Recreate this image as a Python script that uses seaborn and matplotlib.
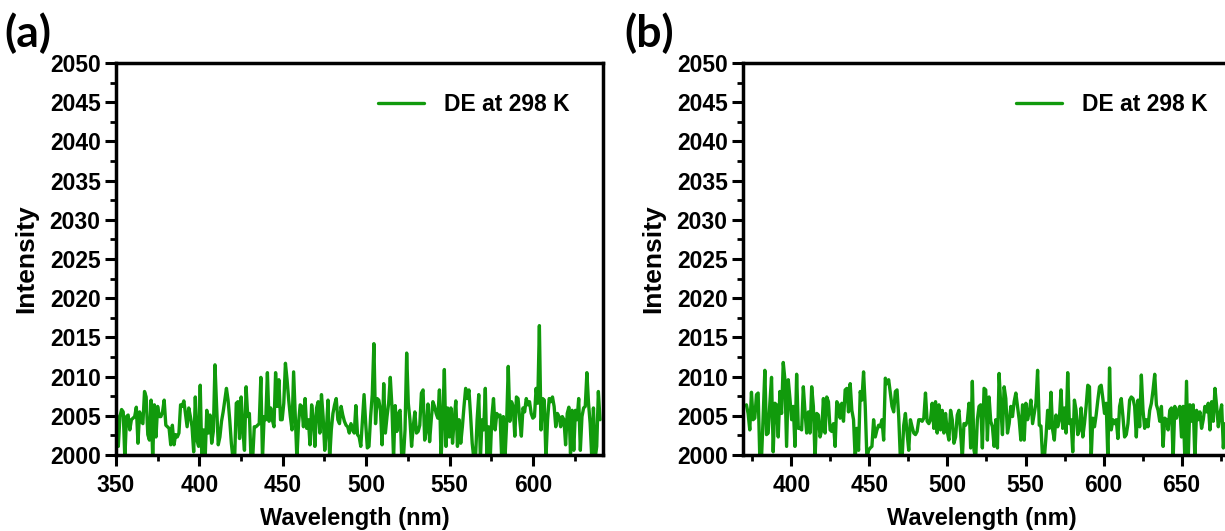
import numpy as np
import pandas as pd
import matplotlib
matplotlib.use("Agg")
import matplotlib.pyplot as plt
import seaborn as sns
from matplotlib.ticker import MultipleLocator

# ---------------------------------------------------------------- data
# Panel (a): emission spectrum sampled across 350-640 nm
intensity_a = [
    2005.1, 2001.1, 2004.9, 2005.8, 2005.5, 1999.5, 2004.9, 2005.1, 2003.2, 2004.5,
    2004.7, 2004.9, 2006.1, 2001.5, 2005.5, 2004.3, 2004.0, 2008.1, 2007.4, 2002.6,
    2001.9, 2007.0, 1999.5, 2006.4, 2002.3, 2006.2, 2004.9, 2004.9, 2005.5, 2007.0,
    2003.8, 2003.6, 2003.4, 2001.3, 2003.8, 2001.3, 2002.6, 2002.3, 2002.8, 2006.4,
    2006.2, 2006.9, 2005.3, 2003.6, 2006.0, 2004.9, 2003.6, 2000.4, 2007.4, 2001.9,
    2001.1, 2008.9, 1999.5, 2003.2, 1999.5, 2005.7, 2002.8, 2005.1, 2001.5, 2003.0,
    2011.5, 2006.2, 2001.3, 2002.3, 2004.3, 2005.5, 2007.0, 2008.5, 2007.0, 2004.5,
    2001.5, 1999.5, 1999.5, 2006.6, 2006.8, 2002.1, 2007.4,
    2003.2, 2000.6, 2008.7, 2004.9, 2005.3, 1999.5, 1999.5, 2003.6, 2003.6, 2003.8,
    2004.0, 2009.9, 1999.5, 2004.9, 2004.5, 2010.5, 2004.3, 2006.0, 2004.5, 2003.6,
    2010.5, 2006.2, 2009.6, 2004.5, 2004.5, 2006.6, 2011.7, 2009.6, 2007.0, 2004.9,
    2003.2, 2010.6, 2004.9, 1999.5, 2004.0, 2006.4, 2006.2, 2003.6, 2007.2, 2003.4,
    2004.5, 2001.3, 2006.4, 2004.5, 2001.1, 2006.0, 2006.8, 2002.8, 2007.7, 2004.9,
    2000.6, 2003.2, 2007.0, 1999.5, 2003.2, 2005.3, 2006.4, 2007.2, 2004.5, 2004.0,
    2006.2, 2005.1, 2004.3, 2003.8, 2003.6, 2002.8, 2004.0, 2003.2, 2002.8, 2006.3,
    2002.6, 2002.3, 2001.1, 2004.5,
    2007.7, 2004.0, 2000.9, 2001.1, 2004.9, 2007.7, 2014.2, 2004.0, 2007.2, 2007.0,
    2005.7, 2001.3, 2009.1, 2002.8, 2004.9, 2006.6, 2009.9, 2006.2, 1999.5, 2006.3,
    2003.0, 2005.3, 2005.7, 1999.5, 1999.5, 2003.2, 2013.0, 2006.6, 2004.5, 2001.1,
    2003.6, 2005.5, 2002.8, 2003.0, 2003.8, 2007.9, 2008.3, 2001.9, 2003.2, 2006.5,
    2001.7, 2004.5, 2006.8, 2006.2, 2005.3, 2004.7, 2008.3, 1999.5, 2004.5, 2010.9,
    2001.1, 2006.0, 2002.3, 2006.0, 2001.5, 2004.5, 2006.9, 2001.1, 2004.5, 2001.5,
    2003.6, 2006.2, 2008.5, 2007.2, 2008.3, 2005.1, 2001.5, 1999.5, 1999.5, 2004.5,
    2007.7, 1999.5, 2004.5,
    2003.2, 2008.5, 1999.5, 2003.6, 1999.5, 2004.9, 2007.2, 2003.2, 2005.3, 2004.9,
    2005.1, 1999.5, 2004.9, 1999.5, 2004.0, 2011.3, 2004.3, 2006.8, 2006.2, 2002.4,
    2007.4, 2007.2, 2004.5, 2002.4, 2006.0, 2005.5, 2007.2, 2006.4, 2006.8, 2005.3,
    2004.7, 2004.9, 2008.5, 2006.6, 2016.5, 2003.2, 2007.2, 2007.0, 1999.5, 2004.5,
    2007.2, 2006.8, 2007.4, 2006.2, 2003.6, 2005.3, 2004.9, 2003.6, 2004.9, 2004.5,
    2001.3, 2005.3, 2006.1, 2000.2, 2005.7, 2000.6, 2005.7, 2004.5, 2007.2, 2000.6,
    2004.9, 2006.0, 2006.2, 2010.5, 2006.6, 2004.0, 1999.5, 2006.0, 1999.5, 2001.1,
    2008.1, 2004.5,
]

# Panel (b): emission spectrum sampled across 371-678 nm
intensity_b = [
    2006.4, 2005.3, 2003.2, 2008.0, 2004.5, 2004.7, 2007.7, 2007.9, 1999.5, 1999.5,
    2004.9, 2010.8, 2002.6, 2002.8, 2006.6, 2009.9, 2000.4, 2006.6, 2006.4, 2002.3,
    2008.1, 2005.3, 2011.8, 2009.6, 2001.1, 2009.6, 2007.2, 2004.5, 2006.2, 2001.1,
    2010.3, 2003.4, 2003.4, 2003.2, 2008.7, 2005.5, 2002.8, 2005.5, 2002.8, 2008.7,
    2006.2, 1999.5, 2005.3, 2005.1, 2002.3, 2003.2, 2007.2, 2002.8, 2007.4, 2006.8,
    2003.2, 2003.0, 2004.0, 2001.1, 2006.8, 2006.4, 2004.7, 2006.6, 2004.3, 2008.3,
    2008.5, 2005.5, 2009.1, 2005.7, 2004.5, 1999.5, 2003.4, 2000.6, 2008.1, 2007.0,
    2010.6, 2006.2, 1999.5, 2000.6, 2000.9, 2001.1, 2004.5, 2002.3, 2003.2, 2003.8,
    2003.6, 2004.5, 2001.9, 2009.8, 2009.1, 2009.6, 2007.9, 2006.2, 2005.5, 2008.1,
    2008.3, 2004.9, 1999.5, 1999.5, 2003.8, 2005.3, 2002.8, 2000.6, 2004.5, 2003.6,
    2002.8, 2002.6, 2003.0, 2004.5, 2004.5, 2004.3, 2004.7, 2007.9, 2004.3, 2004.0,
    2004.5, 2006.6, 2003.4, 2006.8, 2002.8, 2006.4, 2003.2, 2005.7, 2002.8, 2005.3,
    2003.0, 2001.9, 2005.7, 2004.5, 2001.5, 2002.3, 2005.1, 2005.7, 2002.8, 1999.5,
    2004.0, 2003.8, 2004.3, 2006.6, 2000.9, 2009.4, 2000.6, 1999.5, 2004.5, 2006.2,
    2006.4, 2000.9, 2008.5,
    2008.3, 2001.9, 2007.4, 2004.3, 2003.6, 2001.1, 2004.5, 2000.9, 2010.4, 2006.2,
    2002.6, 2008.7, 2007.2, 2002.8, 2004.0, 2006.2, 2004.9, 2006.8, 2007.9, 2006.2,
    2004.5, 2001.9, 2006.4, 2001.9, 2006.6, 2004.5, 2005.5, 2007.0, 2004.0, 2005.3,
    2006.6, 2010.8, 2003.8, 2003.7, 1999.5, 1999.5, 2002.3, 2005.7, 2003.4, 2008.0,
    2003.2, 2001.9, 2005.1, 2003.6, 2004.5, 2008.3, 2003.4, 2006.0, 2002.8, 2010.5,
    2004.0, 2004.5, 2000.4, 2007.0, 2005.7, 2002.6, 2003.2, 2006.0, 2002.3, 2004.0,
    2006.2, 2008.9, 2008.7, 1999.5, 2004.7, 2003.6, 2005.1, 2007.0, 2008.7, 2008.9,
    2007.2, 2005.3, 2006.6, 1999.5, 2011.1, 2003.2, 2004.5, 2004.0, 2004.5, 2002.1,
    2006.2, 2007.2, 2004.9, 2002.3, 2002.6, 2004.0, 2007.0, 2007.4, 2007.2, 2006.2,
    2002.3, 2007.0, 2003.6, 2010.2, 2005.7, 2003.4, 2004.5, 2003.6, 2005.7, 2006.6,
    2008.3, 2010.3, 2006.4, 2005.7, 2004.3, 2006.2, 2001.1, 2004.7, 2004.5, 2003.2,
    2005.7, 2006.0, 1999.5, 2006.2, 2004.7, 2005.7, 2006.2, 2002.3, 2006.2, 1999.5,
    2009.4, 1999.5, 2006.4, 2004.3, 2006.4, 1999.5, 2005.7, 2004.5, 2005.5, 2003.4,
    2004.5, 2006.2, 2005.5, 2006.6, 2003.2, 2006.8, 2004.3, 2008.5, 2006.2, 2003.6,
    2005.3, 2006.4, 2000.9, 2004.0,
]

# uniform wavelength grids of the two scans (nm)
wl_range_a = (350.4, 640.2)
wl_range_b = (371.2, 677.8)
wavelength_a = np.linspace(*wl_range_a, len(intensity_a))
wavelength_b = np.linspace(*wl_range_b, len(intensity_b))

series_label = "DE at 298 K"
y_ticks = [2000, 2005, 2010, 2015, 2020, 2025, 2030, 2035, 2040, 2045, 2050]
x_ticks_a = [350, 400, 450, 500, 550, 600]
x_ticks_b = [400, 450, 500, 550, 600, 650]

df_a = pd.DataFrame({"Wavelength": wavelength_a, "Intensity": intensity_a})
df_b = pd.DataFrame({"Wavelength": wavelength_b, "Intensity": intensity_b})

# ---------------------------------------------------------------- style
sns.set_theme(style="ticks")
plt.rcParams["font.family"] = ["Liberation Sans", "DejaVu Sans"]
plt.rcParams["font.weight"] = "bold"
plt.rcParams["axes.labelweight"] = "bold"
plt.rcParams["text.color"] = "black"
plt.rcParams["axes.labelcolor"] = "black"
plt.rcParams["xtick.color"] = "black"
plt.rcParams["ytick.color"] = "black"
plt.rcParams["xtick.labelcolor"] = "black"
plt.rcParams["ytick.labelcolor"] = "black"

GREEN = "#119A0C"
W, H = 1225, 531

fig = plt.figure(figsize=(W / 100, H / 100), dpi=100)
ax_a = fig.add_axes([116 / W, 76 / H, 487 / W, 392 / H])
ax_b = fig.add_axes([743 / W, 76 / H, 487 / W, 392 / H])


def draw_panel(ax, df, xlim, xticks, legend_x, tag, tag_x):
    sns.lineplot(data=df, x="Wavelength", y="Intensity", ax=ax, color=GREEN,
                 linewidth=2.4, label=series_label, sort=False, estimator=None)
    ax.set_xlim(*xlim)
    ax.set_ylim(2000, 2050)
    ax.set_xticks(xticks)
    ax.set_yticks(y_ticks)
    ax.xaxis.set_minor_locator(MultipleLocator(25))
    ax.yaxis.set_minor_locator(MultipleLocator(2.5))
    ax.tick_params(which="major", direction="out", length=8, width=2.2,
                   labelsize=16.5, color="black", labelcolor="black")
    ax.tick_params(which="minor", direction="out", length=4, width=2.0,
                   color="black")
    ax.tick_params(axis="x", which="major", pad=6)
    ax.tick_params(axis="y", which="major", pad=3)
    for lab in ax.get_xticklabels() + ax.get_yticklabels():
        lab.set_fontweight("bold")
    for sp in ax.spines.values():
        sp.set_visible(True)
        sp.set_linewidth(2.5)
        sp.set_color("black")
    ax.set_xlabel("Wavelength (nm)", fontsize=17, fontweight="bold",
                  color="black")
    ax.set_ylabel("Intensity", fontsize=19, fontweight="bold", color="black")
    ax.xaxis.set_label_coords(0.49, -0.132)
    ax.yaxis.set_label_coords(-0.16, 0.5)
    leg = ax.legend(loc="center right", bbox_to_anchor=(legend_x, 0.895),
                    frameon=False, borderpad=0, borderaxespad=0,
                    handlelength=2.0, handletextpad=0.9,
                    prop={"size": 16.5, "weight": "bold"})
    for h in leg.get_lines():
        h.set_linewidth(2.4)
    for t in leg.get_texts():
        t.set_color("black")
    fig.text(tag_x / W, 1 - 12 / H, tag, fontsize=32, fontweight="bold",
             family=["Lato", "DejaVu Sans"], va="top", ha="left",
             color="black")


draw_panel(ax_a, df_a, (350, 642), x_ticks_a, 0.932, "(a)", 4)
draw_panel(ax_b, df_b, (369, 681), x_ticks_b, 0.955, "(b)", 624)

fig.savefig("out.png", dpi=100)
